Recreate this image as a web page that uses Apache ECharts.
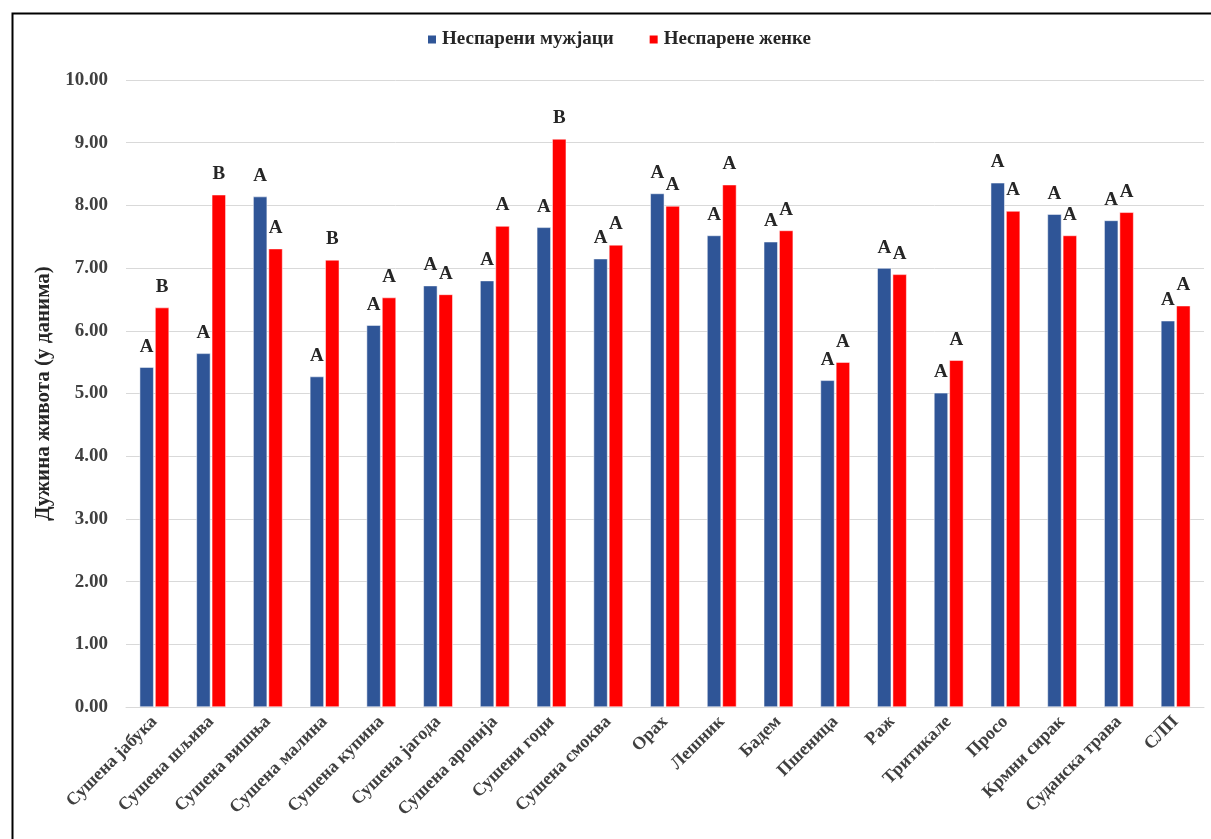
<!DOCTYPE html>
<html>
<head>
<meta charset="utf-8">
<script src="https://cdn.jsdelivr.net/npm/echarts@6/dist/echarts.min.js"></script>
<style>
  html, body { margin: 0; padding: 0; background: #fff; }
  #chart { width: 1211px; height: 839px; }
</style>
</head>
<body>
<div id="chart"></div>
<script>
// Food / diet categories
const categories = [
  'Сушена јабука', 'Сушена шљива', 'Сушена вишња', 'Сушена малина', 'Сушена купина',
  'Сушена јагода', 'Сушена аронија', 'Сушени гоџи', 'Сушена смоква', 'Орах',
  'Лешник', 'Бадем', 'Пшеница', 'Раж', 'Тритикале',
  'Просо', 'Крмни сирак', 'Суданска трава', 'СЛП'
];

// Mean lifespan (days)
const males = [5.42, 5.64, 8.14, 5.27, 6.09, 6.72, 6.80, 7.65, 7.15, 8.19,
               7.52, 7.42, 5.21, 7.00, 5.01, 8.36, 7.86, 7.76, 6.16];
const females = [6.37, 8.17, 7.31, 7.13, 6.53, 6.58, 7.67, 9.06, 7.37, 7.99,
                 8.33, 7.60, 5.50, 6.90, 5.53, 7.91, 7.52, 7.89, 6.40];

// Significance letters above each bar
const maleLetters = ['A', 'A', 'A', 'A', 'A', 'A', 'A', 'A', 'A', 'A',
                     'A', 'A', 'A', 'A', 'A', 'A', 'A', 'A', 'A'];
const femaleLetters = ['B', 'B', 'A', 'B', 'A', 'A', 'A', 'B', 'A', 'A',
                       'A', 'A', 'A', 'A', 'A', 'A', 'A', 'A', 'A'];

const seriesNames = ['Неспарени мужјаци', 'Неспарене женке'];
const yTicks = { min: 0, max: 10, interval: 1 };

const serif = '"Liberation Serif", "DejaVu Serif", serif';

const chart = echarts.init(document.getElementById('chart'));

function letterLabel(letters) {
  return {
    show: true,
    position: 'top',
    distance: 11,
    formatter: p => letters[p.dataIndex],
    fontFamily: serif,
    fontWeight: 'bold',
    fontSize: 19,
    color: '#262626'
  };
}

chart.setOption({
  animation: false,
  backgroundColor: '#fff',
  graphic: [{
    type: 'rect',
    left: 10,
    top: 11,
    shape: { width: 1260, height: 900 },
    style: { fill: 'none', stroke: '#000', lineWidth: 2 },
    silent: true
  }],
  legend: {
    top: 25,
    left: 421,
    itemWidth: 10,
    itemHeight: 10,
    itemGap: 34,
    icon: 'rect',
    textStyle: { fontFamily: serif, fontWeight: 'bold', fontSize: 19, color: '#262626' },
    data: seriesNames
  },
  grid: { left: 126, right: 7, top: 80, bottom: 132, containLabel: false },
  xAxis: {
    type: 'category',
    data: categories,
    axisLine: { lineStyle: { color: '#d9d9d9', width: 1 } },
    axisTick: { show: false },
    axisLabel: {
      interval: 0,
      rotate: 45,
      margin: 12,
      fontFamily: serif,
      fontWeight: 'bold',
      fontSize: 18,
      color: '#404040'
    }
  },
  yAxis: {
    type: 'value',
    min: yTicks.min,
    max: yTicks.max,
    interval: yTicks.interval,
    name: 'Дужина живота (у данима)',
    nameLocation: 'middle',
    nameGap: 66,
    nameRotate: 90,
    nameTextStyle: { fontFamily: serif, fontWeight: 'bold', fontSize: 21, color: '#262626' },
    axisLine: { show: false },
    axisTick: { show: false },
    splitLine: { lineStyle: { color: '#d9d9d9', width: 1 } },
    axisLabel: {
      margin: 18,
      formatter: v => v.toFixed(2),
      fontFamily: serif,
      fontWeight: 'bold',
      fontSize: 19,
      color: '#404040'
    }
  },
  series: [
    {
      name: seriesNames[0],
      type: 'bar',
      data: males,
      barWidth: 14,
      barGap: '10%',
      itemStyle: { color: '#2F5597', borderColor: '#fff', borderWidth: 0.5 },
      label: letterLabel(maleLetters)
    },
    {
      name: seriesNames[1],
      type: 'bar',
      data: females,
      barWidth: 14,
      barGap: '10%',
      itemStyle: { color: '#FF0000', borderColor: '#fff', borderWidth: 0.5 },
      label: letterLabel(femaleLetters)
    }
  ]
});
</script>
</body>
</html>
